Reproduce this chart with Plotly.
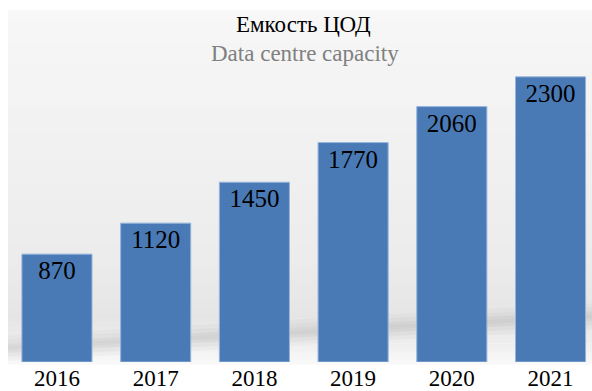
import plotly.graph_objects as go

# Data centre capacity by year
years = ["2016", "2017", "2018", "2019", "2020", "2021"]
capacity = [870, 1120, 1450, 1770, 2060, 2300]

title_ru = "Емкость ЦОД"
title_en = "Data centre capacity"

SERIF = "Liberation Serif, Times New Roman, DejaVu Serif, serif"

W, H = 592, 391
M_T, M_B = 60, 27
PLOT_H = H - M_T - M_B


def py(pixel_y):
    """Convert a pixel row into paper coordinates of the plot area."""
    return (H - M_B - pixel_y) / PLOT_H


def px(pixel_x):
    return pixel_x / W


def mix(c1, c2, t):
    return "rgb(%d,%d,%d)" % tuple(round(a + (b - a) * t) for a, b in zip(c1, c2))


shapes = []

# soft grey backdrop behind the bars (vertical gradient built from thin strips)
stops = [(10, (247, 247, 247)), (120, (242, 242, 242)), (260, (236, 236, 236)),
         (320, (229, 229, 229)), (345, (238, 238, 238)), (366, (249, 249, 249))]
for (y0, c0), (y1, c1) in zip(stops[:-1], stops[1:]):
    n = max(1, (y1 - y0) // 4)
    for i in range(n):
        a = y0 + (y1 - y0) * i / n
        b = y0 + (y1 - y0) * (i + 1) / n
        shapes.append(dict(type="rect", xref="paper", yref="paper",
                           x0=px(8), x1=px(W), y0=py(b + 0.5), y1=py(a),
                           fillcolor=mix(c0, c1, (i + 0.5) / n),
                           line=dict(width=0), layer="below"))

# diagonal floor shadow, soft-edged by stacking translucent bands
for half, op in [(13, 0.04), (9, 0.05), (5, 0.06), (2, 0.05)]:
    xl, xr = 8, W
    yl, yr = 350, 318
    path = "M %f,%f L %f,%f L %f,%f L %f,%f Z" % (
        px(xl), py(yl - half), px(xr), py(yr - half),
        px(xr), py(yr + half), px(xl), py(yl + half))
    shapes.append(dict(type="path", xref="paper", yref="paper", path=path,
                       fillcolor="rgba(110,110,110,%f)" % op,
                       line=dict(width=0), layer="below"))

fig = go.Figure(go.Bar(
    x=list(range(len(years))),
    y=capacity,
    width=0.71,
    marker=dict(color="rgb(74,122,182)",
                line=dict(color="rgb(150,180,220)", width=1)),
    text=[str(v) for v in capacity],
    textposition="inside",
    insidetextanchor="end",
    textangle=0,
    constraintext="none",
    insidetextfont=dict(family=SERIF, size=25, color="black"),
    hoverinfo="skip",
))

fig.update_layout(
    width=W, height=H,
    margin=dict(l=0, r=0, t=M_T, b=M_B, pad=0),
    paper_bgcolor="white",
    plot_bgcolor="rgba(0,0,0,0)",
    showlegend=False,
    shapes=shapes,
    annotations=[
        dict(text=title_ru, xref="paper", yref="paper", x=px(303), y=py(24),
             xanchor="center", yanchor="middle", showarrow=False,
             font=dict(family=SERIF, size=23, color="black")),
        dict(text=title_en, xref="paper", yref="paper", x=px(305), y=py(53),
             xanchor="center", yanchor="middle", showarrow=False,
             font=dict(family=SERIF, size=23, color="rgb(128,128,128)")),
    ],
)

fig.update_xaxes(range=[-0.577, 5.42], tickmode="array",
                 tickvals=list(range(len(years))), ticktext=years,
                 showgrid=False, zeroline=False, showline=False, ticks="",
                 tickfont=dict(family=SERIF, size=23, color="black"),
                 fixedrange=True)
fig.update_yaxes(range=[0, 2436], visible=False, showgrid=False, fixedrange=True)

fig.write_html("out.html", config={"displayModeBar": False})
